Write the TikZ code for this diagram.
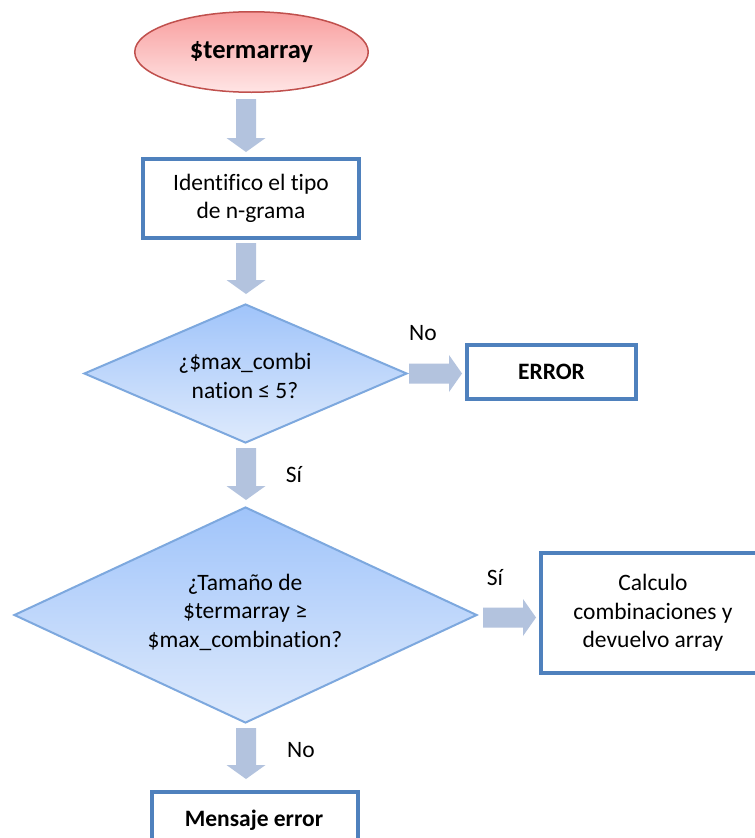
\documentclass[tikz,border=0pt]{standalone}
\usepackage{fontspec}
\setmainfont{Carlito}[Ligatures=NoCommon]
\usetikzlibrary{shapes.geometric,calc}

\definecolor{startline}{RGB}{192,80,77}
\definecolor{starttop}{RGB}{248,158,158}
\definecolor{startbot}{RGB}{255,229,229}
\definecolor{boxline}{RGB}{79,129,189}
\definecolor{decline}{RGB}{125,168,222}
\definecolor{dectop}{RGB}{160,196,250}
\definecolor{decbot}{RGB}{222,234,252}
\definecolor{arrowfill}{RGB}{179,195,222}

\tikzset{
  txt/.style={font=\fontsize{23.5}{28.5}\selectfont, align=center, inner sep=0pt},
  startnode/.style={ellipse, draw=startline, line width=1.5pt,
    top color=starttop, bottom color=startbot, inner sep=0pt,
    font=\fontsize{26.5}{30}\selectfont\bfseries},
  procbox/.style={rectangle, draw=boxline, line width=4pt, fill=white,
    txt, inner sep=0pt},
  decision/.style={diamond, draw=decline, line width=2pt,
    top color=dectop, bottom color=decbot, inner sep=0pt},
}

% block arrow pointing down: from point #1 (top, sets x) to tip #2 (sets y)
\newcommand\blockdown[2]{%
  \fill[arrowfill] let \p1=#1, \p2=#2 in
    (\x1-10pt,\y1) -- (\x1+10pt,\y1) -- (\x1+10pt,\y2+14pt) --
    (\x1+19.5pt,\y2+14pt) -- (\x1,\y2) -- (\x1-19.5pt,\y2+14pt) --
    (\x1-10pt,\y2+14pt) -- cycle;}
% block arrow pointing right: from point #1 (tail, sets y) to tip #2 (sets x)
\newcommand\blockright[2]{%
  \fill[arrowfill] let \p1=#1, \p2=#2 in
    (\x1,\y1+10pt) -- (\x2-13pt,\y1+10pt) -- (\x2-13pt,\y1+18.5pt) --
    (\x2,\y1) -- (\x2-13pt,\y1-18.5pt) -- (\x2-13pt,\y1-10pt) --
    (\x1,\y1-10pt) -- cycle;}

\begin{document}
\begin{tikzpicture}[x=1pt,y=-1pt]
  \useasboundingbox (0,0) rectangle (755,838);
  \clip (0,0) rectangle (755,838);
  \fill[white] (0,0) rectangle (755,838);

  % shapes
  \node[startnode, minimum width=233.5pt, minimum height=80.5pt] (start) at (251.5,52) {\$termarray};
  \node[procbox, minimum width=216pt, minimum height=79pt] (tipo) at (251,198.5)
    {Identifico el tipo\\de n-grama};
  \node[decision, minimum width=323pt, minimum height=139pt] (dmax) at (245.5,373.5) {};
  \node[txt] (dmaxtxt) at (245,376) {¿\$max\_combi\\nation ≤ 5?};
  \node[procbox, minimum width=169pt, minimum height=54pt] (err) at (551.5,372) {\bfseries ERROR};
  \node[decision, minimum width=463pt, minimum height=216pt] (dsize) at (245.5,615) {};
  \node[txt] (dsizetxt) at (245,612) {¿Tamaño de\\\$termarray ≥\\\$max\_combination?};
  \node[procbox, minimum width=224pt, minimum height=120pt] (calc) at (653,613)
    {Calculo\\combinaciones y\\devuelvo array};
  \node[procbox, minimum width=206pt, minimum height=61pt] (msg) at (255,822.5) {};
  \node[txt] (msgtxt) at (254,820) {\bfseries Mensaje error};

  % connectors
  \blockdown{($(start.south)+(-5.5,6)$)}{($(tipo.north)+(0,-5)$)}
  \blockdown{($(tipo.south)+(-5,3)$)}{($(dmax.north)+(0,-9)$)}
  \blockdown{($(dmax.south)+(0.5,4)$)}{($(dsize.north)+(0,-6)$)}
  \blockdown{($(dsize.south)+(0.5,4)$)}{($(msg.north)+(0,-11)$)}
  \blockright{($(dmax.east)+(1,0)$)}{($(err.west)+(-3,0)$)}
  \blockright{($(dsize.east)+(5,2.5)$)}{($(calc.west)+(-3,0)$)}

  % branch labels
  \node[txt] (lno1) at (423,333) {No};
  \node[txt] (lsi1) at (294,475) {Sí};
  \node[txt] (lsi2) at (495,578) {Sí};
  \node[txt] (lno2) at (301,750) {No};
\end{tikzpicture}
\end{document}
